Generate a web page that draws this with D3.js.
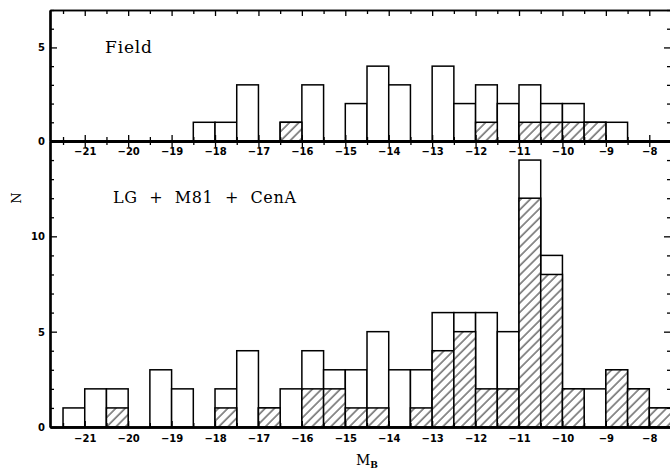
<!DOCTYPE html>
<html><head><meta charset="utf-8">
<script src="https://cdn.jsdelivr.net/npm/d3@7"></script>
<style>
html,body{margin:0;padding:0;background:#fff;}
svg{display:block;}
.tl{font-family:"DejaVu Sans",sans-serif;font-weight:bold;font-size:10px;fill:#000;}
</style>
</head><body>
<svg id="c" width="670" height="470"></svg>
<script>
// bin left edges (width 0.5 mag)
const binStart = [-21.5,-21,-20.5,-20,-19.5,-19,-18.5,-18,-17.5,-17,-16.5,-16,-15.5,-15,-14.5,-14,-13.5,-13,-12.5,-12,-11.5,-11,-10.5,-10,-9.5,-9,-8.5,-8];
const fieldTotal   = [0,0,0,0,0,0,1,1,3,0,1,3,0,2,4,3,0,4,2,3,2,3,2,2,1,1,0,0];
const fieldHatched = [0,0,0,0,0,0,0,0,0,0,1,0,0,0,0,0,0,0,0,1,0,1,1,1,1,0,0,0];
const groupTotal   = [1,2,2,0,3,2,0,2,4,1,2,4,3,3,5,3,3,6,6,6,5,14,9,2,2,3,2,1];
const groupHatched = [0,0,1,0,0,0,0,1,0,1,0,2,2,1,1,0,1,4,5,2,2,12,8,2,0,3,2,1];
const xTickLabels = [-21,-20,-19,-18,-17,-16,-15,-14,-13,-12,-11,-10,-9,-8];
const binWidth = 0.5;

const svg = d3.select('#c');
const x = d3.scaleLinear().domain([-21.8,-7.5]).range([50,671]);
const yTop = d3.scaleLinear().domain([0,7]).range([141,10]);
const yBot = d3.scaleLinear().domain([0,15]).range([427,141]);

// hatch pattern
const defs = svg.append('defs');
const pat = defs.append('pattern').attr('id','hatch').attr('patternUnits','userSpaceOnUse')
  .attr('width',6.6).attr('height',10).attr('patternTransform','rotate(45)');
pat.append('rect').attr('width',6.6).attr('height',10).attr('fill','#fff');
pat.append('line').attr('x1',1).attr('x2',1).attr('y1',-1).attr('y2',11).attr('stroke','#000').attr('stroke-width',0.9);

function bars(g, y, total, hatched){
  const d = binStart.map((b,i)=>({b, t: total[i], h: hatched[i]}));
  g.selectAll('rect.t').data(d.filter(e=>e.t>0)).join('rect').attr('class','t')
    .attr('x',e=>x(e.b)).attr('width',e=>x(e.b+binWidth)-x(e.b))
    .attr('y',e=>y(e.t)).attr('height',e=>y(0)-y(e.t))
    .attr('fill','#fff').attr('stroke','#000').attr('stroke-width',1.5);
  g.selectAll('rect.h').data(d.filter(e=>e.h>0)).join('rect').attr('class','h')
    .attr('x',e=>x(e.b)).attr('width',e=>x(e.b+binWidth)-x(e.b))
    .attr('y',e=>y(e.h)).attr('height',e=>y(0)-y(e.h))
    .attr('fill','url(#hatch)').attr('stroke','#000').attr('stroke-width',1.5);
}

const halfTicks = d3.range(-21.5,-7.9,0.5).filter(v=>v%1!==0);
const intTicks = xTickLabels;

function xAxis(yPos, axisFn, size, values, labels, width){
  const a = axisFn(x).tickValues(values).tickSize(size).tickSizeOuter(0);
  if(!labels) a.tickFormat('');
  const g = svg.append('g').attr('transform',`translate(0,${yPos})`).call(a);
  g.select('.domain').attr('stroke','#000').attr('stroke-width',width);
  g.selectAll('.tick line').attr('stroke','#000').attr('stroke-width',1.3);
  return g;
}
function yAxis(xPos, axisFn, scale, size, values, labels, width){
  const a = axisFn(scale).tickValues(values).tickSize(size).tickSizeOuter(0);
  if(!labels) a.tickFormat('');
  const g = svg.append('g').attr('transform',`translate(${xPos},0)`).call(a);
  g.select('.domain').attr('stroke','#000').attr('stroke-width',width);
  g.selectAll('.tick line').attr('stroke','#000').attr('stroke-width',1.3);
  return g;
}

// bars
bars(svg.append('g'), yTop, fieldTotal, fieldHatched);
bars(svg.append('g'), yBot, groupTotal, groupHatched);

// top panel frame top
xAxis(10, d3.axisTop, -6, intTicks, false, 1.6);
xAxis(10, d3.axisTop, -4, halfTicks, false, 1.6);
// shared line y=141 : top panel ticks up, bottom panel ticks down
xAxis(141, d3.axisBottom, -6, intTicks, false, 2.4);
xAxis(141, d3.axisBottom, -4, halfTicks, false, 2.4);
xAxis(141, d3.axisBottom, 6, intTicks, false, 2.4);
xAxis(141, d3.axisBottom, 4, halfTicks, false, 2.4);
// bottom panel baseline
xAxis(427, d3.axisBottom, -6, intTicks, false, 2.4);
xAxis(427, d3.axisBottom, -4, halfTicks, false, 2.4);

// x tick labels
function xLabels(yPos){
  const a = d3.axisBottom(x).tickValues(xTickLabels).tickSize(0).tickFormat(d3.format('d'));
  const g = svg.append('g').attr('transform',`translate(0,${yPos})`).call(a);
  g.select('.domain').remove();
  g.selectAll('text').attr('class','tl').attr('y',0).attr('dy','0.35em');
  g.attr('font-size',null).attr('font-family',null);
}
xLabels(151);
xLabels(438);

// y axes
const topMinor = [1,2,3,4,6,7], topMajor=[0,5];
const botMinor = d3.range(0,16).filter(v=>v%5!==0), botMajor=[0,5,10,15];
yAxis(50, d3.axisLeft, yTop, -7, topMajor, false, 2.2);
yAxis(50, d3.axisLeft, yTop, -4, topMinor, false, 2.2);
yAxis(50, d3.axisLeft, yBot, -7, botMajor, false, 2.2);
yAxis(50, d3.axisLeft, yBot, -4, botMinor, false, 2.2);
yAxis(671, d3.axisRight, yTop, -7, topMajor, false, 2);
yAxis(671, d3.axisRight, yTop, -4, topMinor, false, 2);
yAxis(671, d3.axisRight, yBot, -7, botMajor, false, 2);
yAxis(671, d3.axisRight, yBot, -4, botMinor, false, 2);

function yLabels(scale, values){
  const a = d3.axisLeft(scale).tickValues(values).tickSize(0).tickFormat(d3.format('d'));
  const g = svg.append('g').attr('transform','translate(45,0)').call(a);
  g.select('.domain').remove();
  g.selectAll('text').attr('class','tl').attr('x',0).attr('dy','0.35em');
  g.attr('font-size',null).attr('font-family',null);
}
yLabels(yTop, [0,5]);
yLabels(yBot, [0,5,10]);

// panel titles
svg.append('text').attr('x',105).attr('y',53).attr('textLength',47).attr('lengthAdjust','spacing')
  .attr('font-family','DejaVu Serif').attr('font-size',17).text('Field');
svg.append('text').attr('x',113).attr('y',203).attr('textLength',183).attr('lengthAdjust','spacing')
  .attr('font-family','DejaVu Serif').attr('font-size',16).style('white-space','pre')
  .text('LG  +  M81  +  CenA');

// axis titles
svg.append('text').attr('transform','translate(21,198) rotate(-90)').attr('text-anchor','middle')
  .attr('font-family','DejaVu Serif').attr('font-size',13).text('N');
const mb = svg.append('text').attr('x',356).attr('y',465).attr('font-family','DejaVu Serif').attr('font-size',14);
mb.append('tspan').text('M');
mb.append('tspan').attr('font-size',9).attr('font-weight','bold').attr('dy',3).text('B');
</script>
</body></html>
